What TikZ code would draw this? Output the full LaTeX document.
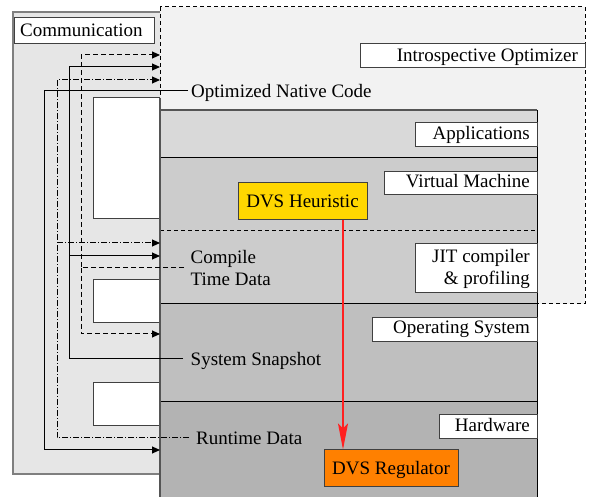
\documentclass[tikz,border=0pt]{standalone}
\usepackage{fontspec}
\setmainfont{Liberation Serif}
\usetikzlibrary{arrows.meta}
\definecolor{commfill}{HTML}{E6E6E6}
\definecolor{commline}{HTML}{7F7F7F}
\definecolor{optfill}{HTML}{F2F2F2}
\definecolor{appfill}{HTML}{D9D9D9}
\definecolor{vmfill}{HTML}{CCCCCC}
\definecolor{osfill}{HTML}{BFBFBF}
\definecolor{hwfill}{HTML}{B3B3B3}
\definecolor{boxline}{HTML}{404040}
\definecolor{stackline}{HTML}{555555}
\definecolor{heurfill}{HTML}{FFD700}
\definecolor{regfill}{HTML}{FF8000}
\definecolor{redline}{HTML}{FF2020}
\begin{document}
\begin{tikzpicture}[x=1pt,y=-1pt,
  every node/.style={font=\fontsize{19}{22.5}\selectfont},
  lbl/.style={draw=boxline, fill=white, line width=1pt, inner sep=0pt, anchor=north west},
  txt/.style={inner sep=0pt, text height=13pt, text depth=0pt},
  arr/.style={line width=1pt, -{Triangle[length=8pt,width=7pt]}},
  dashline/.style={dash pattern=on 5pt off 3pt},
  dotline/.style={dash pattern=on 6pt off 2pt on 1pt off 2pt},
  cutout/.style={draw=boxline, fill=white, line width=1pt},
  dvsbox/.style={draw=boxline, line width=1pt, inner sep=0pt, minimum height=37pt, text height=13pt, text depth=1pt}]
\useasboundingbox (0,0) rectangle (590,497);
\clip (0,0) rectangle (590,497);

% Communication area
\fill[commfill] (13,12) rectangle (160,474);
\draw[commline, line width=1.5pt] (160,12) -- (13,12) -- (13,474) -- (160,474);

% Introspective optimizer area
\draw[fill=optfill, line width=1pt, dash pattern=on 4pt off 3pt] (160,7) rectangle (585,304);

% Layer stack
\fill[appfill] (160,110) rectangle (537,158);
\fill[vmfill] (160,158) rectangle (537,304);
\fill[osfill] (160,304) rectangle (537,402);
\fill[hwfill] (160,402) rectangle (537,500);
\draw[black, line width=1pt] (160,158) -- (537,158);
\draw[black, line width=1pt] (160,304) -- (537,304);
\draw[black, line width=1pt] (160,402) -- (537,402);
\draw[black, line width=1pt, dash pattern=on 4pt off 3pt] (160,231) -- (537,231);
\draw[stackline, line width=1.5pt] (160,110) -- (537,110);
\draw[black, line width=1pt] (537,110) -- (537,500);

% white cut-outs in the communication area
\draw[cutout] (160,98) -- (93,98) -- (93,219) -- (160,219);
\draw[cutout] (160,280) -- (93,280) -- (93,323) -- (160,323);
\draw[cutout] (160,383) -- (93,383) -- (93,426) -- (160,426);
\draw[stackline, line width=1.5pt] (160,98) -- (160,500);

% label boxes
\node[lbl, minimum width=140pt, minimum height=25.5pt] (commbox) at (14,17.5) {};
\node[txt, anchor=base west] (commtxt) at (20,37) {Communication};
\node[lbl, minimum width=225pt, minimum height=24pt] (introbox) at (360,43) {};
\node[txt, anchor=base east] (introtxt) at (578,62) {Introspective Optimizer};
\node[lbl, minimum width=122pt, minimum height=24pt] (appbox) at (415,122) {};
\node[txt, anchor=base east] (apptxt) at (530,140) {Applications};
\node[lbl, minimum width=153pt, minimum height=23pt] (vmbox) at (384,171) {};
\node[txt, anchor=base east] (vmtxt) at (530,188) {Virtual Machine};
\node[lbl, minimum width=122pt, minimum height=49pt] (jitbox) at (415,243) {};
\node[txt, anchor=base east] (jittxta) at (530,263) {JIT compiler};
\node[txt, anchor=base east] (jittxtb) at (530,285) {\& profiling};
\node[lbl, minimum width=165pt, minimum height=24pt] (osbox) at (372,317) {};
\node[txt, anchor=base east] (ostxt) at (530,334) {Operating System};
\node[lbl, minimum width=98pt, minimum height=24pt] (hwbox) at (439,414) {};
\node[txt, anchor=base east] (hwtxt) at (530,432) {Hardware};

% DVS boxes
\node[dvsbox, fill=heurfill, minimum width=129pt] (heur) at (302.5,201.5) {DVS Heuristic};
\node[dvsbox, fill=regfill, minimum width=134pt] (reg) at (391,468.5) {DVS Regulator};
\coordinate (redx) at (343,0);
\draw[draw=redline, line width=1.2pt, -{Stealth[length=26pt,width=10pt,inset=5pt,fill=redline]}] (heur.south -| redx) -- (reg.north -| redx);

% data labels
\node[txt, anchor=west, inner xsep=3pt] (onc) at (188,91) {Optimized Native Code};
\node[anchor=west, inner xsep=6.5pt, inner ysep=0pt, align=left] (ctd) at (184,268) {Compile\\Time Data};
\node[txt, anchor=west, inner xsep=7.5pt] (snap) at (183,359) {System Snapshot};
\node[txt, anchor=west, inner xsep=7pt] (rtd) at (189,438) {Runtime Data};

% bus columns and entry points
\coordinate (busA) at (44,0);
\coordinate (busC) at (57,0);
\coordinate (busB) at (69,0);
\coordinate (busD) at (81,0);
\coordinate (optD) at (160,55);
\coordinate (optS) at (160,67);
\coordinate (optR) at (160,80);
\coordinate (jitR) at (160,243);
\coordinate (jitS) at (160,256);
\coordinate (osD) at (160,334);
\coordinate (hwN) at (160,450);

% connectors
\draw[arr] (onc.west) -- (onc.west -| busA) -- (busA |- hwN) -- (hwN);
\draw[arr] (snap.west) -- (snap.west -| busB) -- (busB |- optS) -- (optS);
\draw[arr] (busB |- jitS) -- (jitS);
\draw[arr, dashline] (ctd.west) -- (ctd.west -| busD) -- (busD |- optD) -- (optD);
\draw[arr, dashline] (ctd.west -| busD) -- (busD |- osD) -- (osD);
\draw[arr, dotline] (rtd.west) -- (rtd.west -| busC) -- (busC |- optR) -- (optR);
\draw[arr, dotline] (busC |- jitR) -- (jitR);
\end{tikzpicture}
\end{document}
